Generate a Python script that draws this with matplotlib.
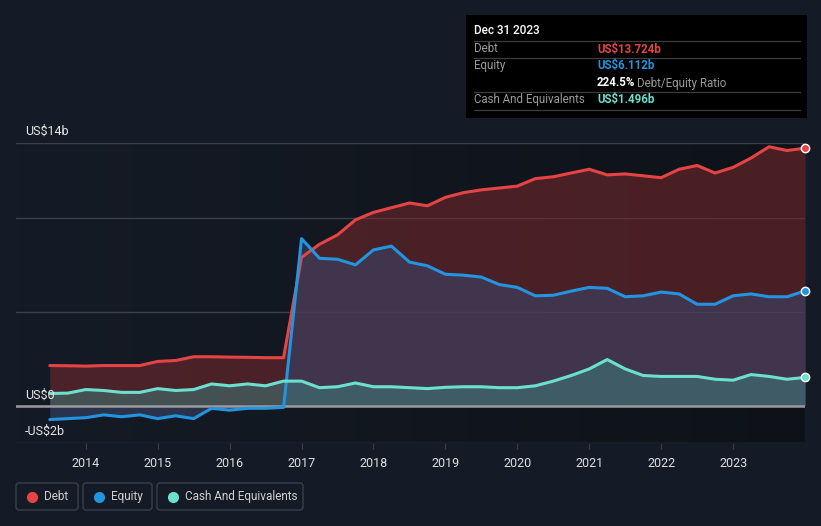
import numpy as np
import matplotlib.pyplot as plt
from matplotlib.patches import FancyBboxPatch
from matplotlib.colors import LinearSegmentedColormap

plt.rcParams['font.family'] = ['Roboto', 'DejaVu Sans']

# quarterly dates, mid-2013 .. end of 2023
fechas = [2013.5 + 0.25 * i for i in range(43)]

deuda = [2.13, 2.12, 2.10, 2.13, 2.13, 2.13, 2.35, 2.40, 2.60, 2.60,
         2.58, 2.57, 2.55, 2.55, 7.90, 8.60, 9.10, 9.90, 10.30, 10.55,
         10.80, 10.65, 11.10, 11.35, 11.50, 11.60, 11.70, 12.10, 12.20, 12.40,
         12.60, 12.30, 12.35, 12.25, 12.15, 12.60, 12.80, 12.40, 12.70, 13.20,
         13.80, 13.60, 13.724]

patrimonio = [-0.75, -0.70, -0.65, -0.50, -0.60, -0.50, -0.70, -0.55, -0.70, -0.15,
              -0.25, -0.15, -0.15, -0.10, 8.90, 7.85, 7.80, 7.50, 8.30, 8.50,
              7.65, 7.45, 7.00, 6.95, 6.85, 6.45, 6.30, 5.85, 5.88, 6.10,
              6.30, 6.25, 5.80, 5.85, 6.05, 5.95, 5.40, 5.40, 5.85, 5.95,
              5.80, 5.80, 6.112]

efectivo = [0.64, 0.66, 0.85, 0.80, 0.70, 0.70, 0.90, 0.80, 0.85, 1.15,
            1.05, 1.15, 1.05, 1.30, 1.30, 0.95, 1.00, 1.20, 1.00, 1.00,
            0.95, 0.90, 0.97, 1.00, 1.00, 0.95, 0.95, 1.05, 1.30, 1.60,
            1.95, 2.45, 1.95, 1.60, 1.55, 1.55, 1.55, 1.40, 1.35, 1.65,
            1.55, 1.40, 1.496]

anios = list(range(2014, 2024))

fondo = '#151b26'
rojo = '#e64444'
azul = '#2394df'
verde = '#6ce0cf'

fig = plt.figure(figsize=(8.21, 5.26), dpi=100, facecolor=fondo)
W, H = 821, 526
ax = fig.add_axes([16 / W, 1 - 443 / H, (805 - 16) / W, (443 - 143) / H])
ax.set_facecolor(fondo)
ax.set_xlim(2013.03, 2024.0)
ax.set_ylim(-2, 14)

# background darkening to the right
grad = np.linspace(0, 1, 256).reshape(1, -1)
ax.imshow(grad, extent=[2013.03, 2024.0, -2, 14], aspect='auto',
          cmap=LinearSegmentedColormap.from_list('g', ['#151b26', '#0e1218']), zorder=0)

for g in [5, 10, 14, -2]:
    ax.axhline(g, color='#3a3f49', lw=1, zorder=1)

x = np.array(fechas)
ax.fill_between(x, 0, deuda, color='#7a2a2e', alpha=0.55, lw=0, zorder=2)
ax.fill_between(x, 0, patrimonio, color='#3a4468', alpha=0.6, lw=0, zorder=3)
ax.fill_between(x, 0, efectivo, color='#3f8a86', alpha=0.45, lw=0, zorder=4)

ax.plot(x, deuda, color=rojo, lw=2.2, zorder=6, solid_capstyle='round', solid_joinstyle='round')
ax.plot(x, patrimonio, color=azul, lw=2.2, zorder=6, solid_capstyle='round', solid_joinstyle='round')
ax.plot(x, efectivo, color=verde, lw=2.2, zorder=6, solid_capstyle='round', solid_joinstyle='round')
ax.axhline(0, color='#9a9a9e', lw=1.8, zorder=5)

for serie, c in [(deuda, rojo), (patrimonio, azul), (efectivo, verde)]:
    ax.plot(x[-1], serie[-1], 'o', ms=6, color=c, mec='white', mew=1, zorder=8, clip_on=False)

ax.set_xticks(anios)
ax.set_xticklabels([str(a) for a in anios], color='#e0e0e0', fontsize=9)
ax.tick_params(axis='x', length=4, color='#3a3f49', pad=6)
ax.set_yticks([])
for s in ax.spines.values():
    s.set_visible(False)

for ypix, txt in [(131, 'US$14b'), (395, 'US$0'), (431, '-US$2b')]:
    fig.text(25 / W, 1 - ypix / H, txt, color='#e8e8e8', fontsize=9, va='center', zorder=10)

# tooltip
tip = fig.add_axes([466 / W, 1 - 118 / H, (807 - 466) / W, (118 - 15) / H])
tip.set_xlim(466, 807)
tip.set_ylim(118, 15)
tip.set_facecolor('#000000')
tip.set_xticks([])
tip.set_yticks([])
for s in tip.spines.values():
    s.set_visible(False)
tip.text(474, 31, 'Dec 31 2023', color='white', fontsize=8.5, va='center', fontweight='medium')
for yy in [41, 58, 92, 110]:
    tip.plot([474, 800], [yy, yy], color='#3c3c3c', lw=0.9)
gris = '#9a9a9a'
tip.text(474, 49, 'Debt', color=gris, fontsize=8.3, va='center')
tip.text(597, 49, 'US$13.724b', color=rojo, fontsize=8.3, va='center', fontweight='bold')
tip.text(474, 66, 'Equity', color=gris, fontsize=8.3, va='center')
tip.text(597, 66, 'US$6.112b', color=azul, fontsize=8.3, va='center', fontweight='bold')
tip.text(597, 83, '224.5%', color='white', fontsize=8.3, va='center', fontweight='bold')
tip.text(637, 83, 'Debt/Equity Ratio', color=gris, fontsize=8.3, va='center')
tip.text(474, 100, 'Cash And Equivalents', color=gris, fontsize=8.3, va='center')
tip.text(597, 100, 'US$1.496b', color=verde, fontsize=8.3, va='center', fontweight='bold')

# legend
leg = fig.add_axes([0, 0, 1, 1], facecolor='none')
leg.set_xlim(0, W)
leg.set_ylim(H, 0)
leg.axis('off')
items = [('Debt', rojo, 16, 78), ('Equity', azul, 83, 152), ('Cash And Equivalents', verde, 157, 303)]
for nombre, c, x0, x1 in items:
    leg.add_patch(FancyBboxPatch((x0, 483), x1 - x0, 27, boxstyle='round,pad=0,rounding_size=3',
                                 fc='none', ec='#3a3f49', lw=1))
    leg.plot(x0 + 16, 496.5, 'o', ms=7, color=c)
    leg.text(x0 + 28, 496.5, nombre, color='#d0d0d0', fontsize=8.5, va='center')

fig.savefig('out.png', dpi=100, facecolor=fondo)
